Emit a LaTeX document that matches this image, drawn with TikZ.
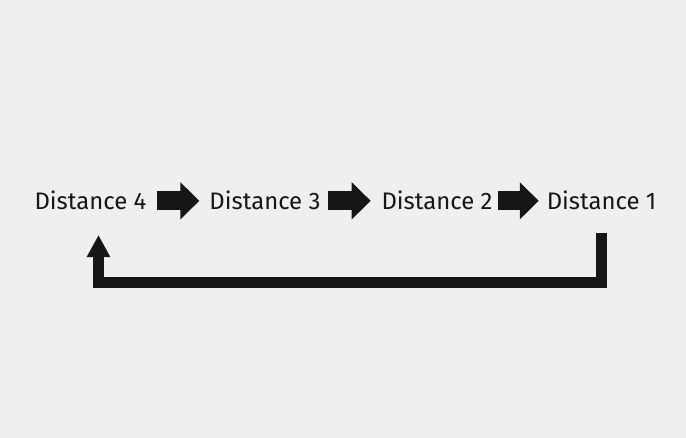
\documentclass[tikz,border=0pt]{standalone}
\usepackage{fontspec}
\setmainfont{Fira Sans}
\usetikzlibrary{arrows.meta}
\definecolor{bg}{HTML}{F0EFED}
\definecolor{ink}{HTML}{161616}
\tikzset{
  dist/.style={anchor=base,inner sep=0pt,font=\fontsize{17}{20}\selectfont,text=ink},
  blockarrow/.style={draw=ink,line width=0.475cm,-{Triangle[length=0.475cm,width=0.9cm]}},
  loopback/.style={draw=ink,line width=0.275cm,line join=miter,-{Triangle[length=0.55cm,width=0.55cm]}}
}
\begin{document}
\begin{tikzpicture}[x=0.025cm,y=-0.025cm]
    \fill[bg] (0,0) rectangle (686,438);
    \useasboundingbox (0,0) rectangle (686,438);
    \node[dist] (d4) at (90.5,210) {Distance 4};
    \node[dist] (d3) at (265,210) {Distance 3};
    \node[dist] (d2) at (437,210) {Distance 2};
    \node[dist] (d1) at (601.5,210) {Distance 1};
    % the three block arrows sit a bit unevenly, as in the original
    \draw[blockarrow,shorten <=7pt,shorten >=7pt] (d4.east) -- (d3.west);
    \draw[blockarrow,shorten <=5pt,shorten >=7.5pt] (d3.east) -- (d2.west);
    \draw[blockarrow,shorten <=3.5pt,shorten >=5.5pt] (d2.east) -- (d1.west);
    \coordinate (loopstart) at (601.5,233);
    \coordinate (loopend) at (98.5,235);
    \draw[loopback] (loopstart) -- ++(0,49.5) -| (loopend);
\end{tikzpicture}
\end{document}
